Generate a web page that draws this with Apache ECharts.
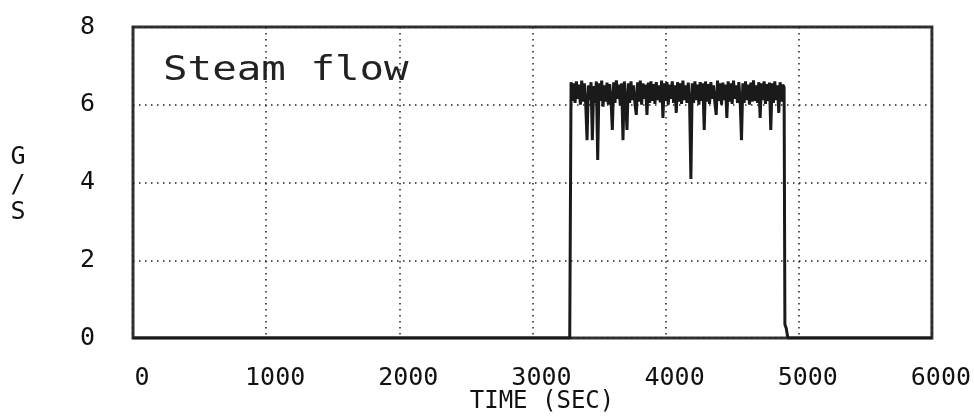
<!DOCTYPE html>
<html>
<head>
<meta charset="utf-8">
<script src="https://cdn.jsdelivr.net/npm/echarts@6/dist/echarts.min.js"></script>
<style>html,body{margin:0;padding:0;background:#fff;}#c{width:974px;height:417px;}</style>
</head>
<body>
<div id="c"></div>
<script>
// ---- data ----
const xTicks = [0, 1000, 2000, 3000, 4000, 5000, 6000];
const yTicks = [0, 2, 4, 6, 8];
const titleText = 'Steam flow';
const xName = 'TIME (SEC)';
const yName = 'G\n/\nS';

const leadTime = [0, 3280];
const leadFlow = [0, 0];

const flowTime = [
  3290,3300,3310,3320,3330,3340,3350,3360,3370,3380,
  3390,3400,3410,3420,3430,3440,3450,3460,3470,3480,
  3490,3500,3510,3520,3530,3540,3550,3560,3570,3580,
  3590,3600,3610,3620,3630,3640,3650,3660,3670,3680,
  3690,3700,3710,3720,3730,3740,3750,3760,3770,3780,
  3790,3800,3810,3820,3830,3840,3850,3860,3870,3880,
  3890,3900,3910,3920,3930,3940,3950,3960,3970,3980,
  3990,4000,4010,4020,4030,4040,4050,4060,4070,4080,
  4090,4100,4110,4120,4130,4140,4150,4160,4170,4180,
  4190,4200,4210,4220,4230,4240,4250,4260,4270,4280,
  4290,4300,4310,4320,4330,4340,4350,4360,4370,4380,
  4390,4400,4410,4420,4430,4440,4450,4460,4470,4480,
  4490,4500,4510,4520,4530,4540,4550,4560,4570,4580,
  4590,4600,4610,4620,4630,4640,4650,4660,4670,4680,
  4690,4700,4710,4720,4730,4740,4750,4760,4770,4780,
  4790,4800,4810,4820,4830,4840,4850,4860,4870,4880,
  4890
];
const flowValue = [
  6.58,6.10,6.55,6.05,6.60,6.15,6.52,6.00,6.62,6.08,
  6.55,6.02,5.09,6.50,6.12,6.58,5.09,6.48,6.05,6.60,
  4.58,6.55,6.10,6.62,5.95,6.50,6.08,6.57,6.00,6.53,
  6.12,5.35,6.58,6.05,6.63,6.15,6.52,5.98,6.55,5.09,
  6.60,6.10,5.35,6.55,6.05,6.60,6.12,6.50,6.02,5.74,
  6.58,6.08,6.62,6.00,6.55,6.15,6.52,5.74,6.57,6.05,
  6.60,6.10,6.53,6.02,6.58,6.12,6.50,6.06,6.62,5.66,
  6.55,6.10,6.58,6.00,6.52,6.15,6.60,6.05,6.50,5.79,
  6.58,6.08,6.55,6.02,6.62,6.12,6.50,6.05,6.57,6.10,
  4.09,6.55,6.05,6.60,6.12,6.52,6.00,6.58,6.10,6.55,
  5.35,6.60,6.08,6.53,6.02,6.58,6.15,6.50,6.05,5.74,
  6.62,6.10,6.55,6.00,6.57,6.12,6.52,5.66,6.60,6.08,
  6.55,6.02,6.62,6.15,6.50,6.05,6.58,6.10,5.09,6.55,
  6.05,6.60,6.12,6.52,6.00,6.57,6.08,6.63,6.10,6.50,
  6.05,6.58,5.66,6.55,6.12,6.60,6.02,6.53,6.10,6.57,
  5.35,6.55,6.05,6.60,6.12,6.50,5.79,6.58,6.08,6.52,
  6.45
];

const tailTime = [4896, 4900, 4906, 4918, 6000];
const tailFlow = [0.35, 0.3, 0.25, 0, 0];

// ---- build ----
const allTime = leadTime.concat(flowTime, tailTime);
const allFlow = leadFlow.concat(flowValue, tailFlow);
const seriesData = allTime.map((t, i) => [t, allFlow[i]]);

const FONT = 'DejaVu Sans Mono';
const chart = echarts.init(document.getElementById('c'), null, {renderer: 'canvas'});
const dotted = {color: '#222', width: 1.5, type: [1.5, 4.5]};

chart.setOption({
  animation: false,
  backgroundColor: '#fff',
  grid: {
    left: 133, right: 41, top: 27, bottom: 79,
    show: true, borderColor: '#333', borderWidth: 3, backgroundColor: 'transparent'
  },
  xAxis: {
    type: 'value',
    min: xTicks[0], max: xTicks[xTicks.length - 1], interval: 1000,
    axisLine: {show: false},
    axisTick: {show: false},
    splitLine: {show: true, lineStyle: dotted},
    axisLabel: {
      fontFamily: FONT, fontSize: 25, color: '#111', margin: 28,
      padding: [0, 0, 0, 18],
      formatter: v => String(v)
    }
  },
  yAxis: {
    type: 'value',
    min: yTicks[0], max: yTicks[yTicks.length - 1], interval: 2,
    axisLine: {show: false},
    axisTick: {show: false},
    splitLine: {show: true, lineStyle: dotted},
    axisLabel: {fontFamily: FONT, fontSize: 25, color: '#111', margin: 38}
  },
  graphic: [
    {
      type: 'text', x: 163, y: 71, scaleX: 1.2, originX: 0, originY: 0, z: 10,
      style: {text: titleText, font: '34px "DejaVu Sans Mono"', fill: '#222',
        textAlign: 'left', textVerticalAlign: 'middle'}
    },
    {
      type: 'text', x: 542, y: 402, z: 10,
      style: {text: xName, font: '24px "DejaVu Sans Mono"', fill: '#111',
        textAlign: 'center', textVerticalAlign: 'middle'}
    },
    {
      type: 'text', x: 18, y: 185, z: 10,
      style: {text: yName, font: '25px "DejaVu Sans Mono"', fill: '#111', lineHeight: 27.5,
        textAlign: 'center', textVerticalAlign: 'middle'}
    }
  ],
  series: [{
    type: 'line',
    data: seriesData,
    showSymbol: false,
    z: 5,
    lineStyle: {color: '#1a1a1a', width: 3},
    clip: true
  }]
});
</script>
</body>
</html>
